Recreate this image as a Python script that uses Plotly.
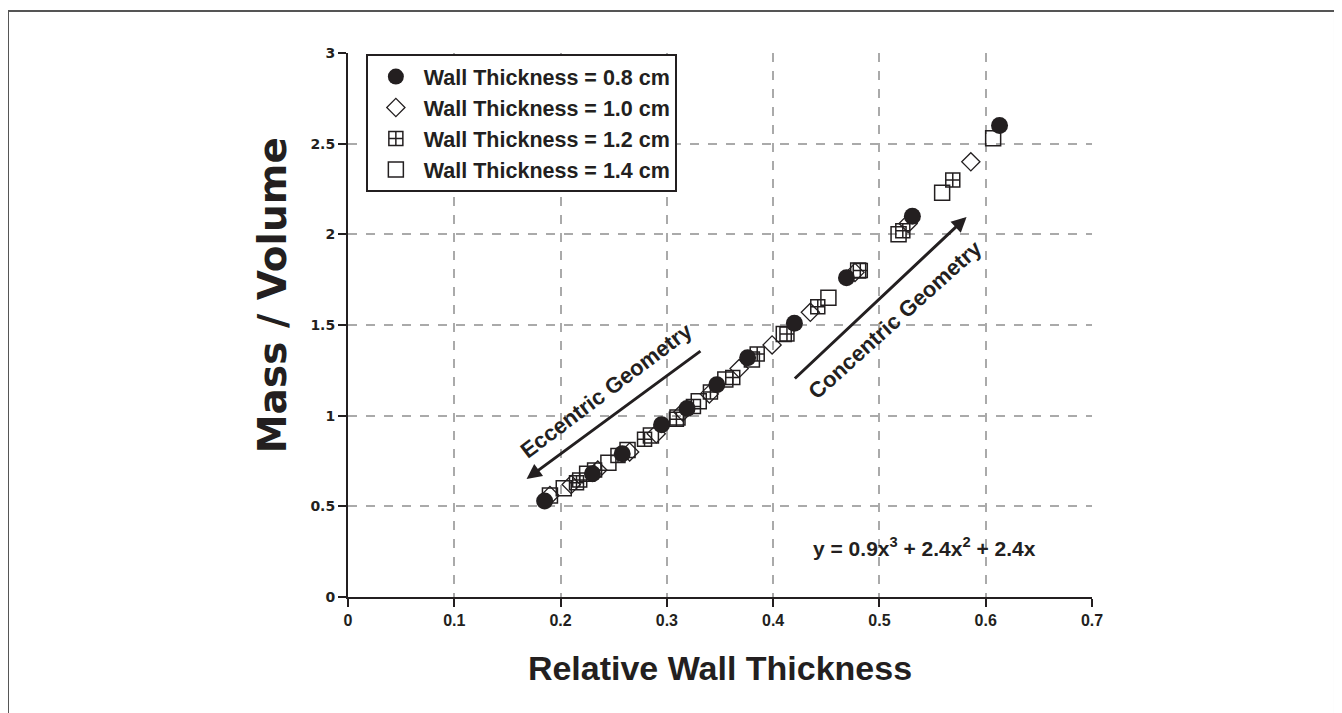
import plotly.graph_objects as go

# ---- data ----
x_08 = [0.185, 0.230, 0.258, 0.295, 0.319, 0.347, 0.376, 0.420, 0.469, 0.531, 0.613]
y_08 = [0.53, 0.68, 0.79, 0.95, 1.04, 1.17, 1.32, 1.51, 1.76, 2.10, 2.60]

x_10 = [0.190, 0.210, 0.235, 0.265, 0.290, 0.315, 0.340, 0.368, 0.399, 0.435, 0.477, 0.527, 0.586]
y_10 = [0.56, 0.62, 0.70, 0.80, 0.90, 1.02, 1.12, 1.26, 1.39, 1.57, 1.79, 2.06, 2.40]

x_12 = [0.215, 0.218, 0.232, 0.254, 0.279, 0.309, 0.325, 0.341, 0.362, 0.385, 0.413, 0.442, 0.482, 0.522, 0.569]
y_12 = [0.63, 0.645, 0.70, 0.78, 0.87, 0.98, 1.05, 1.13, 1.21, 1.34, 1.45, 1.60, 1.80, 2.02, 2.30]

x_14 = [0.190, 0.203, 0.225, 0.245, 0.263, 0.285, 0.310, 0.330, 0.355, 0.380, 0.410, 0.452, 0.480, 0.518, 0.559, 0.607]
y_14 = [0.56, 0.60, 0.68, 0.74, 0.81, 0.89, 0.99, 1.08, 1.20, 1.31, 1.45, 1.65, 1.80, 2.00, 2.23, 2.53]

names = ["Wall Thickness = 0.8 cm", "Wall Thickness = 1.0 cm",
         "Wall Thickness = 1.2 cm", "Wall Thickness = 1.4 cm"]

x_ticks = [0, 0.1, 0.2, 0.3, 0.4, 0.5, 0.6, 0.7]
y_ticks = [0, 0.5, 1, 1.5, 2, 2.5, 3]
x_ticklabels = ["0", "0.1", "0.2", "0.3", "0.4", "0.5", "0.6", "0.7"]
y_ticklabels = ["0", "0.5", "1", "1.5", "2", "2.5", "3"]

FONT = "Arial, Liberation Sans, sans-serif"
WIDE = "DejaVu Sans, Arial, sans-serif"
NARROW = "Liberation Sans Narrow, Arial Narrow, Arial, sans-serif"
INK = "#231f20"

fig = go.Figure()
fig.add_trace(go.Scatter(x=x_14, y=y_14, mode="markers", name=names[3], legendrank=4,
                         marker=dict(symbol="square-open", size=15, color=INK, line=dict(width=1.5))))
fig.add_trace(go.Scatter(x=x_12, y=y_12, mode="markers", name=names[2], legendrank=3,
                         marker=dict(symbol="square-cross-open", size=14, color=INK, line=dict(width=1.5))))
fig.add_trace(go.Scatter(x=x_10, y=y_10, mode="markers", name=names[1], legendrank=2,
                         marker=dict(symbol="diamond-open", size=14, color=INK, line=dict(width=1.3))))
fig.add_trace(go.Scatter(x=x_08, y=y_08, mode="markers", name=names[0], legendrank=1,
                         marker=dict(symbol="circle", size=17, color=INK, line=dict(width=0))))

axis_common = dict(
    showline=True, linecolor=INK, linewidth=2,
    ticks="outside", ticklen=8, tickwidth=2, tickcolor=INK,
    showgrid=True, gridcolor="#aaaaaa", griddash="dash", gridwidth=1.5,
    zeroline=False,
)

fig.update_xaxes(range=[0, 0.7], tickvals=x_ticks, ticktext=x_ticklabels,
                 tickfont=dict(family=NARROW, size=16, color=INK, weight="bold"),
                 title=dict(text="Relative Wall Thickness", standoff=28,
                            font=dict(family=FONT, size=34, color=INK, weight="bold")),
                 **axis_common)
fig.update_yaxes(range=[0, 3], tickvals=y_ticks, ticktext=y_ticklabels,
                 tickfont=dict(family=WIDE, size=14, color=INK, weight="bold"),
                 **axis_common)

# y axis title placed as a rotated annotation (sits above the centre in the reference)
fig.add_annotation(x=-0.102, y=0.555, xref="paper", yref="paper",
                   text="Mass / Volume", showarrow=False, textangle=-90,
                   xanchor="center", yanchor="middle",
                   font=dict(family=WIDE, size=39, color=INK, weight="bold"))

# arrows
fig.add_annotation(x=0.168, y=0.651, ax=0.333, ay=1.362, xref="x", yref="y",
                   axref="x", ayref="y", showarrow=True, arrowhead=2, arrowsize=1,
                   arrowwidth=3, arrowcolor=INK, text="")
fig.add_annotation(x=0.582, y=2.096, ax=0.419, ay=1.197, xref="x", yref="y",
                   axref="x", ayref="y", showarrow=True, arrowhead=2, arrowsize=1,
                   arrowwidth=3, arrowcolor=INK, text="")

fig.add_annotation(x=0.243, y=1.14, xref="x", yref="y", text="Eccentric Geometry",
                   showarrow=False, textangle=-37,
                   font=dict(family=FONT, size=22, color=INK, weight="bold"))
fig.add_annotation(x=0.515, y=1.53, xref="x", yref="y", text="Concentric Geometry",
                   showarrow=False, textangle=-42,
                   font=dict(family=FONT, size=22, color=INK, weight="bold"))
fig.add_annotation(x=0.542, y=0.275, xref="x", yref="y",
                   text="y = 0.9x<sup>3</sup> + 2.4x<sup>2</sup> + 2.4x",
                   showarrow=False,
                   font=dict(family=FONT, size=21, color=INK, weight="bold"))

# outer frame
fig.add_shape(type="rect", xref="paper", yref="paper",
              x0=-0.457, x1=1.3266, y0=-0.23, y1=1.077,
              line=dict(color="#555555", width=2), fillcolor="rgba(0,0,0,0)", layer="below")

fig.update_layout(
    width=1342, height=713,
    margin=dict(l=340, r=258, t=45, b=124),
    paper_bgcolor="white", plot_bgcolor="white",
    showlegend=True,
    legend=dict(x=0.024, y=0.998, xanchor="left", yanchor="top",
                bgcolor="white", bordercolor=INK, borderwidth=2,
                font=dict(family=FONT, size=21.5, color=INK, weight="bold"),
                itemwidth=46),
)

fig.write_html("out.html")
